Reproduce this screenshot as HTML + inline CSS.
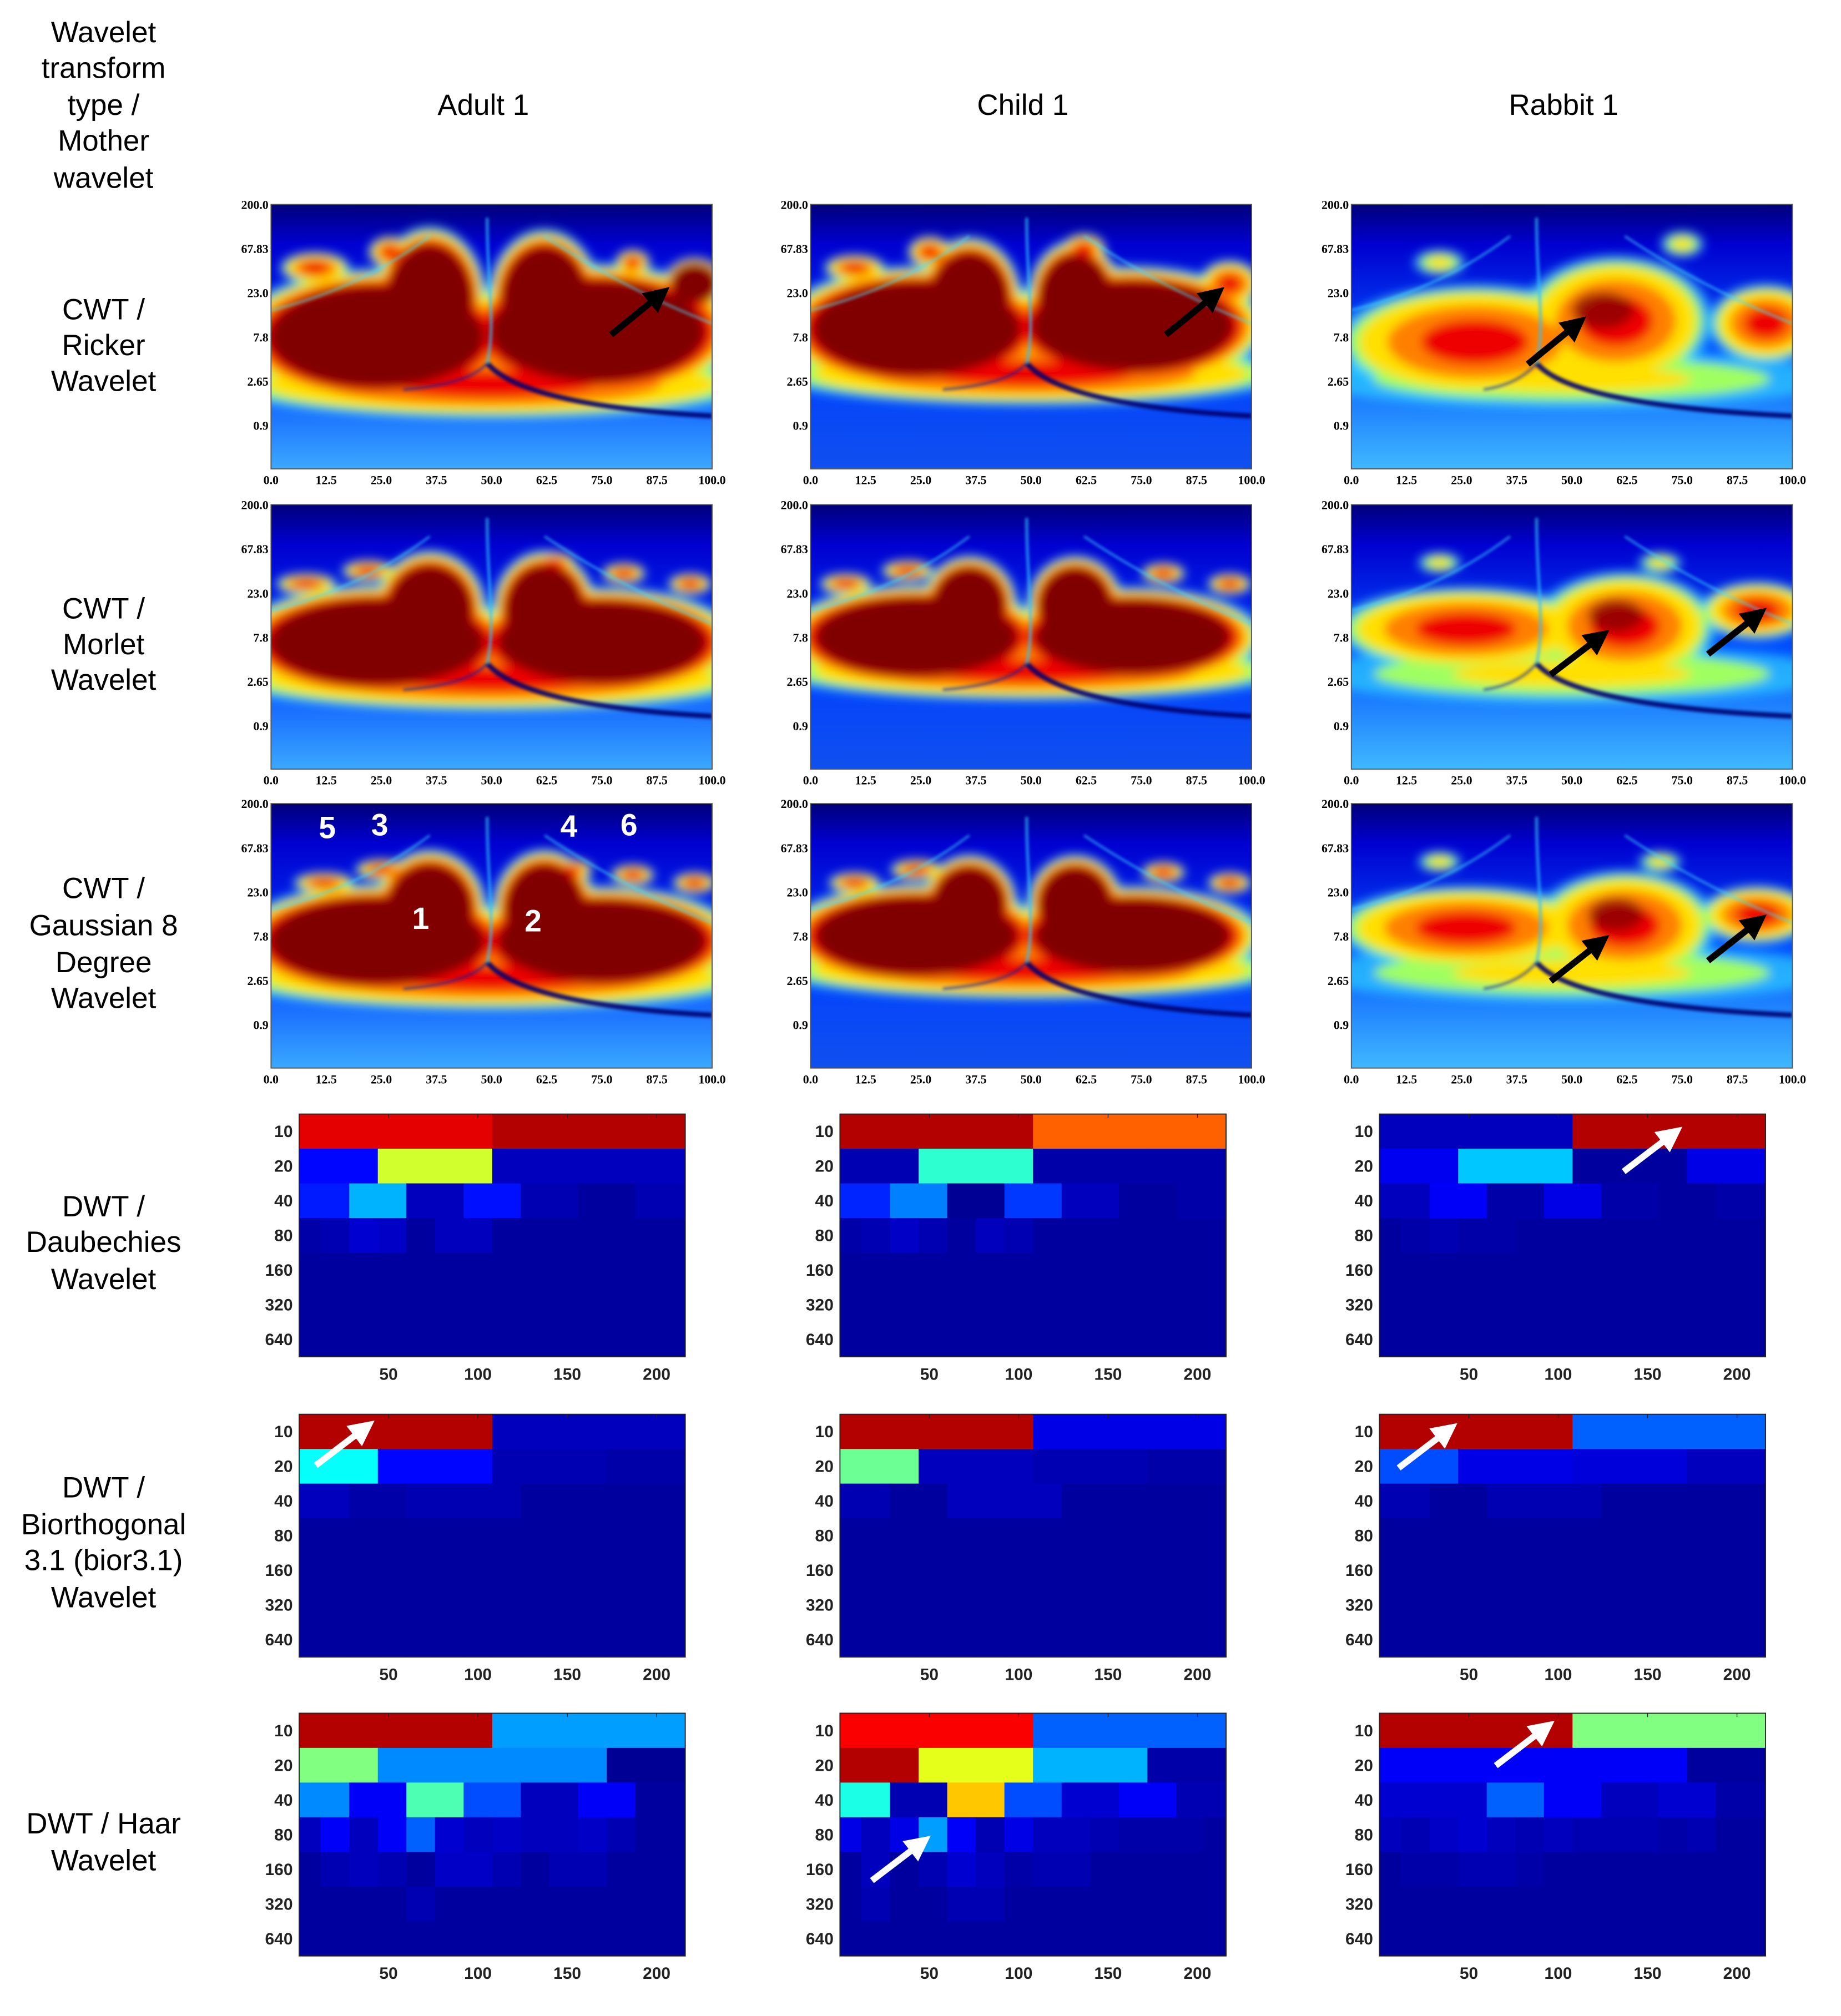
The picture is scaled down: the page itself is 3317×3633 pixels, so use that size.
<!DOCTYPE html>
<html><head><meta charset="utf-8"><style>
html,body{margin:0;padding:0;background:#fff;}
svg{display:block;}
</style></head><body>
<svg id="fig" xmlns="http://www.w3.org/2000/svg" width="3317" height="3633" viewBox="0 0 1440 1578" preserveAspectRatio="none">
<defs>
<filter id="blur" x="-10%" y="-10%" width="120%" height="120%"><feGaussianBlur stdDeviation="4"/></filter>
<filter id="blur2" x="-10%" y="-10%" width="120%" height="120%"><feGaussianBlur stdDeviation="1.2"/></filter>
<linearGradient id="bgA" x1="0" y1="0" x2="0" y2="1"><stop offset="0" stop-color="#00007a"/><stop offset="0.15" stop-color="#0000d0"/><stop offset="0.6" stop-color="#0040ff"/><stop offset="1" stop-color="#3aa8ff"/></linearGradient>
<linearGradient id="bgC" x1="0" y1="0" x2="0" y2="1"><stop offset="0" stop-color="#00007a"/><stop offset="0.15" stop-color="#0000d0"/><stop offset="0.6" stop-color="#0040ff"/><stop offset="1" stop-color="#1050ee"/></linearGradient>
<linearGradient id="bgR" x1="0" y1="0" x2="0" y2="1"><stop offset="0" stop-color="#00007a"/><stop offset="0.15" stop-color="#0000d0"/><stop offset="0.55" stop-color="#0050ff"/><stop offset="1" stop-color="#40b8ff"/></linearGradient>
<marker id="ahB" markerWidth="4" markerHeight="4" refX="2" refY="2" orient="auto" markerUnits="strokeWidth"><path d="M0,0 L4,2 L0,4 Z" fill="#000"/></marker>
<marker id="ahW" markerWidth="4" markerHeight="4" refX="2" refY="2" orient="auto" markerUnits="strokeWidth"><path d="M0,0 L4,2 L0,4 Z" fill="#fff"/></marker>
</defs>
<g font-family="'Liberation Sans', Arial, sans-serif" font-size="23" fill="#000" text-anchor="middle">
<text x="81" y="33">Wavelet</text>
<text x="81" y="61">transform</text>
<text x="81" y="90">type /</text>
<text x="81" y="118">Mother</text>
<text x="81" y="147">wavelet</text>
<text x="378" y="90">Adult 1</text>
<text x="800" y="90">Child 1</text>
<text x="1223" y="90">Rabbit 1</text>
<g><text x="81" y="250">CWT /</text><text x="81" y="278">Ricker</text><text x="81" y="306">Wavelet</text></g>
<g><text x="81" y="484">CWT /</text><text x="81" y="512">Morlet</text><text x="81" y="540">Wavelet</text></g>
<g><text x="81" y="703">CWT /</text><text x="81" y="732">Gaussian 8</text><text x="81" y="761">Degree</text><text x="81" y="789">Wavelet</text></g>
<g><text x="81" y="952">DWT /</text><text x="81" y="980">Daubechies</text><text x="81" y="1009">Wavelet</text></g>
<g><text x="81" y="1172">DWT /</text><text x="81" y="1201">Biorthogonal</text><text x="81" y="1229">3.1 (bior3.1)</text><text x="81" y="1258">Wavelet</text></g>
<g><text x="81" y="1435">DWT / Haar</text><text x="81" y="1464">Wavelet</text></g>
</g>
<g id="panels"></g>
<g id="overlay"></g>
</svg>
<script>
// ---- CWT scalogram blobs: [cx, cy, rx, ry, level] in panel fractions ----
const adultRicker = [[0.5,0.68,0.62,0.13,2],[0.24,0.5,0.33,0.26,3],[0.36,0.36,0.13,0.28,3],[0.74,0.48,0.33,0.26,3],[0.62,0.36,0.13,0.27,3],[0.1,0.24,0.08,0.06,2],[0.27,0.18,0.05,0.06,2],[0.63,0.17,0.05,0.06,2],[0.82,0.22,0.04,0.05,2],[0.96,0.3,0.07,0.1,3]];
const childRicker = [[0.5,0.64,0.6,0.12,2],[0.24,0.47,0.32,0.24,3],[0.36,0.36,0.12,0.24,3],[0.73,0.46,0.31,0.23,3],[0.6,0.36,0.11,0.23,3],[0.1,0.24,0.07,0.05,2],[0.27,0.18,0.05,0.06,2],[0.62,0.17,0.05,0.06,2],[0.95,0.3,0.07,0.09,2]];
const rabbitRicker = [[0.5,0.66,0.6,0.11,1],[0.28,0.52,0.32,0.22,2],[0.6,0.44,0.22,0.25,2],[0.57,0.4,0.1,0.1,4],[0.94,0.45,0.13,0.15,2],[0.2,0.22,0.06,0.05,1],[0.75,0.15,0.05,0.05,1]];
const adultMorlet = [[0.5,0.66,0.62,0.12,2],[0.24,0.52,0.33,0.22,3],[0.36,0.4,0.13,0.23,3],[0.75,0.52,0.32,0.21,3],[0.62,0.4,0.12,0.23,3],[0.08,0.3,0.07,0.04,2],[0.22,0.25,0.06,0.04,2],[0.64,0.22,0.05,0.04,2],[0.8,0.26,0.05,0.04,2],[0.95,0.3,0.05,0.04,2]];
const childMorlet = [[0.5,0.63,0.6,0.11,2],[0.24,0.5,0.31,0.2,3],[0.36,0.38,0.11,0.19,3],[0.73,0.5,0.3,0.19,3],[0.6,0.38,0.11,0.19,3],[0.08,0.3,0.06,0.04,2],[0.22,0.25,0.06,0.04,2],[0.8,0.26,0.05,0.04,2],[0.95,0.3,0.05,0.04,2]];
const rabbitMorlet = [[0.5,0.64,0.6,0.11,1],[0.26,0.47,0.3,0.16,2],[0.62,0.46,0.21,0.21,2],[0.6,0.42,0.09,0.09,4],[0.92,0.4,0.13,0.11,2],[0.2,0.22,0.05,0.04,1],[0.7,0.22,0.05,0.04,1]];
const adultGauss = [[0.5,0.66,0.62,0.12,2],[0.24,0.52,0.33,0.22,3],[0.36,0.4,0.13,0.23,3],[0.75,0.52,0.32,0.21,3],[0.62,0.4,0.12,0.23,3],[0.12,0.3,0.07,0.04,2],[0.25,0.25,0.06,0.04,2],[0.68,0.25,0.05,0.04,2],[0.82,0.27,0.05,0.04,2],[0.96,0.3,0.05,0.04,2]];
const childGauss = [[0.5,0.63,0.6,0.11,2],[0.24,0.5,0.31,0.2,3],[0.36,0.38,0.11,0.19,3],[0.73,0.5,0.3,0.19,3],[0.6,0.38,0.11,0.19,3],[0.1,0.3,0.06,0.04,2],[0.24,0.25,0.06,0.04,2],[0.8,0.26,0.05,0.04,2],[0.95,0.3,0.05,0.04,2]];
const rabbitGauss = [[0.5,0.64,0.6,0.11,1],[0.26,0.47,0.3,0.16,2],[0.62,0.46,0.21,0.21,2],[0.6,0.42,0.09,0.09,4],[0.92,0.42,0.13,0.11,2],[0.2,0.22,0.05,0.04,1],[0.7,0.22,0.05,0.04,1]];
const cwtYTicks = ["200.0","67.83","23.0","7.8","2.65","0.9"];
const cwtXTicks = ["0.0","12.5","25.0","37.5","50.0","62.5","75.0","87.5","100.0"];

// ---- DWT coefficient magnitudes (0..1 jet scale), rows 10..640 ----
const adultDaub = [[0.9,0.95],[0.13,0.58,0.06,0.06],[0.15,0.3,0.06,0.14,0.05,0.03,0.05],[0.04,0.05,0.08,0.07,0.03,0.06,0.06,0.03,0.03,0.03,0.03,0.03,0.03,0.03]];
const childDaub = [[0.95,0.78],[0.05,0.42,0.04,0.04],[0.16,0.25,0.02,0.18,0.06,0.03,0.04],[0.04,0.05,0.07,0.05,0.03,0.06,0.05,0.03,0.03,0.03,0.03,0.03,0.03,0.03]];
const rabbitDaub = [[0.06,0.95],[0.11,0.32,0.03,0.1],[0.06,0.12,0.04,0.1,0.04,0.03,0.04],[0.03,0.04,0.05,0.04,0.04,0.03,0.03,0.03,0.03,0.03,0.03,0.03,0.03,0.03]];
const adultBior = [[0.95,0.06],[0.38,0.13,0.05,0.04],[0.06,0.04,0.05,0.05,0.03,0.03,0.03]];
const childBior = [[0.95,0.1],[0.48,0.06,0.05,0.04],[0.05,0.03,0.06,0.06,0.03,0.03,0.03]];
const rabbitBior = [[0.95,0.22],[0.2,0.1,0.09,0.06],[0.05,0.03,0.05,0.05,0.03,0.03,0.03]];
const adultHaar = [[0.95,0.28],[0.5,0.26,0.26,0.02],[0.26,0.12,0.45,0.2,0.06,0.12,0.03],[0.06,0.12,0.06,0.12,0.22,0.08,0.06,0.07,0.06,0.06,0.07,0.05,0.03,0.03],[0.03,0.05,0.06,0.05,0.03,0.07,0.07,0.05,0.03,0.05,0.05,0.03,0.03,0.03],[0.03,0.03,0.03,0.03,0.05,0.03,0.03,0.03,0.03,0.03,0.03,0.03,0.03,0.03]];
const childHaar = [[0.88,0.22],[0.95,0.6,0.3,0.04],[0.4,0.05,0.68,0.2,0.08,0.12,0.05],[0.1,0.06,0.1,0.28,0.12,0.05,0.1,0.06,0.06,0.05,0.04,0.04,0.04,0.03],[0.03,0.06,0.03,0.05,0.08,0.06,0.04,0.05,0.05,0.03,0.03,0.03,0.03,0.03],[0.03,0.05,0.03,0.03,0.05,0.05,0.03,0.03,0.03,0.03,0.03,0.03,0.03,0.03]];
const rabbitHaar = [[0.95,0.5],[0.12,0.12,0.12,0.03],[0.08,0.08,0.22,0.12,0.06,0.08,0.04],[0.06,0.05,0.07,0.08,0.06,0.05,0.06,0.05,0.05,0.05,0.04,0.05,0.03,0.03],[0.03,0.04,0.04,0.05,0.05,0.04,0.03,0.03,0.03,0.03,0.03,0.03,0.03,0.03]];
const dwtYTicks = ["10","20","40","80","160","320","640"];
const dwtXTicks = [50,100,150,200];

const NS = "http://www.w3.org/2000/svg";
const panels = document.getElementById('panels');
const overlay = document.getElementById('overlay');
function mk(tag, attrs, parent){const e=document.createElementNS(NS,tag);for(const k in attrs)e.setAttribute(k,attrs[k]);(parent||panels).appendChild(e);return e;}
function jet(v){const c=x=>Math.round(255*Math.max(0,Math.min(1,x)));return `rgb(${c(1.5-Math.abs(4*v-3))},${c(1.5-Math.abs(4*v-2))},${c(1.5-Math.abs(4*v-1))})`;}

// contour layers: colour + scale per level
const layerColors=['#30e0ff','#a0ff60','#ffe000','#ff8000','#ee0000','#800000'];
const levelScales={1:[1,0.75,0.45,0,0,0],2:[1,0.9,0.82,0.62,0.38,0],3:[1,0.94,0.9,0.85,0.8,0.74],4:[0,0,0,0,0,0.7]};

const cwtCols=[{x:212,bg:'bgA'},{x:634,bg:'bgC'},{x:1057,bg:'bgR'}];
const cwtRows=[160,395,629];
const cwtData=[[adultRicker,childRicker,rabbitRicker],[adultMorlet,childMorlet,rabbitMorlet],[adultGauss,childGauss,rabbitGauss]];
const PW=345, PH=207;
let cid=0;
cwtRows.forEach((py,ri)=>{cwtCols.forEach((col,ci)=>{
  const px=col.x, blobs=cwtData[ri][ci];
  const g=mk('g',{});
  
  
  const clip=mk('clipPath',{id:'cl'+cid},g);mk('rect',{x:px,y:py,width:PW,height:PH},clip);
  const inner=mk('g',{'clip-path':'url(#cl'+cid+')'},g);cid++;
  mk('rect',{x:px,y:py,width:PW,height:PH,fill:'url(#'+col.bg+')'},inner);
  const bl=mk('g',{filter:'url(#blur)'},inner);
  for(let L=0;L<layerColors.length;L++){
    blobs.forEach(b=>{const s=levelScales[b[4]][L]; if(!s) return;
      const e=mk('ellipse',{cx:px+b[0]*PW,cy:py+b[1]*PH,rx:b[2]*PW*s,ry:b[3]*PH*s,fill:layerColors[L],opacity:(L===0?0.6:(b[4]===4?0.75:1))},bl);
      
      });
  }
  const X=f=>px+f*PW, Y=f=>py+f*PH;
  const sx = ci===2?0.42:0.49;
  const ln=mk('g',{filter:'url(#blur2)'},inner);
  mk('path',{d:`M${X(sx)},${Y(0.05)} C${X(sx)},${Y(0.3)} ${X(sx+0.02)},${Y(0.45)} ${X(sx)},${Y(0.6)}`,fill:'none',stroke:'#30c0ff','stroke-width':2,opacity:0.8},ln);
  mk('path',{d:`M${X(sx)},${Y(0.6)} Q${X(sx+0.08)},${Y(0.76)} ${X(1)},${Y(0.8)}`,fill:'none',stroke:'#000070','stroke-width':4,opacity:0.9},ln);
  mk('path',{d:`M${X(sx)},${Y(0.6)} Q${X(sx-0.04)},${Y(0.68)} ${X(0.3)},${Y(0.7)}`,fill:'none',stroke:'#0020b0','stroke-width':2,opacity:0.6},ln);
  mk('path',{d:`M${X(0)},${Y(0.4)} Q${X(0.2)},${Y(0.32)} ${X(0.36)},${Y(0.12)}`,fill:'none',stroke:'#40e0ff','stroke-width':1.5,opacity:0.7},ln);
  mk('path',{d:`M${X(0.62)},${Y(0.12)} Q${X(0.8)},${Y(0.32)} ${X(1)},${Y(0.45)}`,fill:'none',stroke:'#40e0ff','stroke-width':1.5,opacity:0.7},ln);
  mk('rect',{x:px,y:py,width:PW,height:PH,fill:'none',stroke:'#555','stroke-width':0.8},g);
  const yt=mk('g',{'font-family':"'Liberation Serif',serif",'font-weight':'bold','font-size':9.5,'text-anchor':'end'},g);
  cwtYTicks.forEach((t,i)=>{const tx=mk('text',{x:px-2,y:py+i*34.6+3.5},yt);tx.textContent=t;
    
    });
  const xt=mk('g',{'font-family':"'Liberation Serif',serif",'font-weight':'bold','font-size':9.5,'text-anchor':'middle'},g);
  cwtXTicks.forEach((t,i)=>{const tx=mk('text',{x:px+i*PW/8,y:py+PH+12},xt);tx.textContent=t;
    
    });
});});

// DWT heatmaps
const dwtCols=[234,657,1079];
const dwtRows=[872,1107,1341];
const dwtData=[[adultDaub,childDaub,rabbitDaub],[adultBior,childBior,rabbitBior],[adultHaar,childHaar,rabbitHaar]];
const DW=302, DH=190, XMAX=216, RH=DH/7;
const xs=(u,px)=>px+u/XMAX*DW;
function edges(r){const first=[108,44,28,12][Math.min(r,3)], w=[108,64,32,16][Math.min(r,3)];const e=[0];let x=first;while(x<XMAX){e.push(x);x+=w;}e.push(XMAX);return e;}
dwtRows.forEach((py,ri)=>{dwtCols.forEach((px,ci)=>{
  const data=dwtData[ri][ci];
  const g=mk('g',{});
  
  
  for(let r=0;r<7;r++){const e=edges(r);const vals=data[r]||[];
    for(let k=0;k<e.length-1;k++){const v=vals[k]!==undefined?vals[k]:0.03;
      const c=mk('rect',{x:xs(e[k],px),y:py+r*RH,width:xs(e[k+1],px)-xs(e[k],px)+0.3,height:RH+0.3,fill:jet(v)},g);
      
      }}
  mk('rect',{x:px,y:py,width:DW,height:DH,fill:'none',stroke:'#222','stroke-width':0.8},g);
  const tk=mk('g',{'font-family':"'Liberation Sans',Arial,sans-serif",'font-weight':'bold','font-size':13,fill:'#222'},g);
  dwtYTicks.forEach((t,i)=>{const tx=mk('text',{x:px-5,y:py+RH*(i+0.5)+4.5,'text-anchor':'end'},tk);tx.textContent=t;
    
    });
  dwtXTicks.forEach(t=>{const tx=mk('text',{x:xs(t,px),y:py+DH+18,'text-anchor':'middle'},tk);tx.textContent=t;
    
    
    mk('line',{x1:xs(t,px),y1:py,x2:xs(t,px),y2:py+3,stroke:'#222','stroke-width':0.6},g);});
});});

// arrows
const blackArrows=[[478,262,516,231],[912,262,950,231],[1195,285,1233,254],[1213,528,1251,499],[1336,512,1374,482],[1213,768,1251,738],[1336,752,1374,722]];
const whiteArrows=[[1270,917,1308,888],[247,1147,285,1118],[1094,1149,1132,1120],[682,1472,720,1443],[1170,1382,1208,1353]];
blackArrows.forEach(a=>{const l=mk('line',{x1:a[0],y1:a[1],x2:a[2],y2:a[3],stroke:'#000','stroke-width':5,'marker-end':'url(#ahB)'},overlay);
  
  });
whiteArrows.forEach(a=>{const l=mk('line',{x1:a[0],y1:a[1],x2:a[2],y2:a[3],stroke:'#fff','stroke-width':5,'marker-end':'url(#ahW)'},overlay);
  
  });
const nums=[["5",256,656],["3",297,654],["4",445,655],["6",492,654],["1",329,727],["2",417,729]];
nums.forEach(n=>{const t=mk('text',{x:n[1],y:n[2],'font-family':"'Liberation Sans',Arial,sans-serif",'font-weight':'bold','font-size':24,fill:'#fff','text-anchor':'middle'},overlay);t.textContent=n[0];
  
  });
</script>
</body></html>
